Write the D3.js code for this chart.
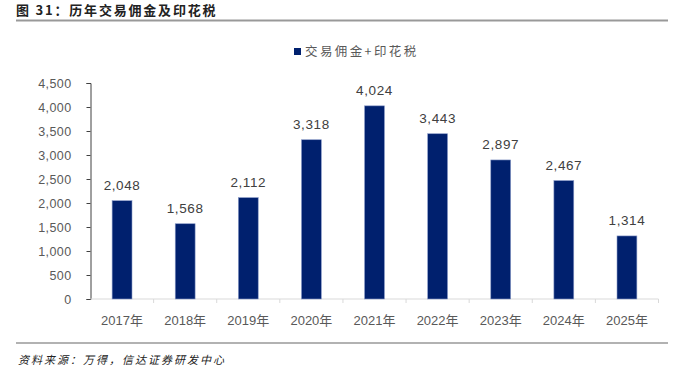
<!DOCTYPE html>
<html>
<head>
<meta charset="utf-8">
<script src="https://cdn.jsdelivr.net/npm/d3@7"></script>
<style>
  body { margin: 0; background: #fff; }
  svg text { font-family: "Liberation Sans", Arial, "Noto Sans CJK SC", sans-serif; }
</style>
</head>
<body>
<div id="chart"></div>
<script>
// data
const years = ['2017年', '2018年', '2019年', '2020年', '2021年', '2022年', '2023年', '2024年', '2025年'];
const fees = [2048, 1568, 2112, 3318, 4024, 3443, 2897, 2467, 1314];
const yTicks = [0, 500, 1000, 1500, 2000, 2500, 3000, 3500, 4000, 4500];
const seriesName = '交易佣金+印花税';
const titleText = '图 31：历年交易佣金及印花税';
const sourceText = '资料来源：万得，信达证券研发中心';

const W = 682, H = 377;
const margin = {left: 90.5, right: 23.5, top: 83, bottom: 78};
const width = W - margin.left - margin.right;
const height = H - margin.top - margin.bottom;
const barColor = '#00206e';
const fmt = d3.format(',');

const svg = d3.select('#chart').append('svg')
    .attr('width', W)
    .attr('height', H);

// title + rule
svg.append('text')
    .attr('x', 16).attr('y', 15)
    .attr('font-size', 13).attr('font-weight', 'bold')
    .attr('fill', '#222')
    .attr('letter-spacing', 1.8)
    .style('font-family', '"Noto Sans CJK SC", sans-serif')
    .text(titleText);
svg.append('line')
    .attr('x1', 16).attr('x2', 668)
    .attr('y1', 20.5).attr('y2', 20.5)
    .attr('stroke', '#999').attr('stroke-width', 2);

// footer
svg.append('line')
    .attr('x1', 16).attr('x2', 668)
    .attr('y1', 343).attr('y2', 343)
    .attr('stroke', '#999').attr('stroke-width', 1.5);
svg.append('text')
    .attr('x', 18).attr('y', 364)
    .attr('font-size', 11).attr('font-style', 'italic')
    .attr('fill', '#222')
    .attr('letter-spacing', 2)
    .style('font-family', '"Noto Sans CJK SC", sans-serif')
    .text(sourceText);

// legend
const lg = svg.append('g').attr('transform', 'translate(294, 48)');
lg.append('rect').attr('width', 7).attr('height', 7).attr('fill', barColor);
lg.append('text')
    .attr('x', 11).attr('y', 8)
    .attr('font-size', 12.5).attr('fill', '#595959')
    .attr('letter-spacing', 2.4)
    .style('font-family', '"Noto Sans CJK SC", sans-serif')
    .text(seriesName);

const g = svg.append('g')
    .attr('transform', `translate(${margin.left}, ${margin.top})`);

// scales
const xScale = d3.scaleBand()
    .domain(years)
    .range([0, width])
    .paddingInner(0.685)
    .paddingOuter(0.3425);
const yScale = d3.scaleLinear()
    .domain([0, 4500])
    .range([height, 0]);

// y axis
const yAxis = d3.axisLeft(yScale)
    .tickValues(yTicks)
    .tickFormat(fmt)
    .tickSize(4)
    .tickSizeOuter(4)
    .tickPadding(15);
const yAxisG = g.append('g').attr('class', 'axis y-axis').call(yAxis);
yAxisG.select('.domain').attr('stroke', '#404040');
yAxisG.selectAll('.tick line').attr('stroke', '#404040');
yAxisG.selectAll('.tick text')
    .attr('font-size', 12.5).attr('fill', '#595959')
    .attr('letter-spacing', 0.4)
    .style('font-family', '"Liberation Sans", Arial, sans-serif');

// x axis line + separators
const bandStep = width / years.length;
g.append('line')
    .attr('x1', 0).attr('x2', width)
    .attr('y1', height).attr('y2', height)
    .attr('stroke', '#d9d9d9').attr('stroke-width', 1);
g.selectAll('.sep')
    .data(d3.range(1, years.length + 1))
    .join('line')
    .attr('class', 'sep')
    .attr('x1', (d) => d * bandStep).attr('x2', (d) => d * bandStep)
    .attr('y1', height).attr('y2', height + 4)
    .attr('stroke', '#d9d9d9');
g.selectAll('.x-label')
    .data(years)
    .join('text')
    .attr('class', 'x-label')
    .attr('x', (d) => xScale(d) + xScale.bandwidth() / 2)
    .attr('y', height + 26)
    .attr('text-anchor', 'middle')
    .attr('font-size', 13).attr('fill', '#595959')
    .style('font-family', '"Liberation Sans", "Noto Sans CJK SC", sans-serif')
    .text((d) => d);

// bars
g.selectAll('.bar')
    .data(fees)
    .join('rect')
    .attr('class', 'bar')
    .attr('x', (d, i) => xScale(years[i]))
    .attr('y', (d) => yScale(d))
    .attr('width', xScale.bandwidth())
    .attr('height', (d) => height - yScale(d))
    .attr('fill', barColor)
    .attr('stroke', '#8a9bc8')
    .attr('stroke-width', 0.6);

// value labels
g.selectAll('.val')
    .data(fees)
    .join('text')
    .attr('class', 'val')
    .attr('x', (d, i) => xScale(years[i]) + xScale.bandwidth() / 2)
    .attr('y', (d) => yScale(d) - 11)
    .attr('text-anchor', 'middle')
    .attr('font-size', 13.5).attr('fill', '#404040')
    .attr('letter-spacing', 0.6)
    .text((d) => fmt(d));
</script>
</body>
</html>
